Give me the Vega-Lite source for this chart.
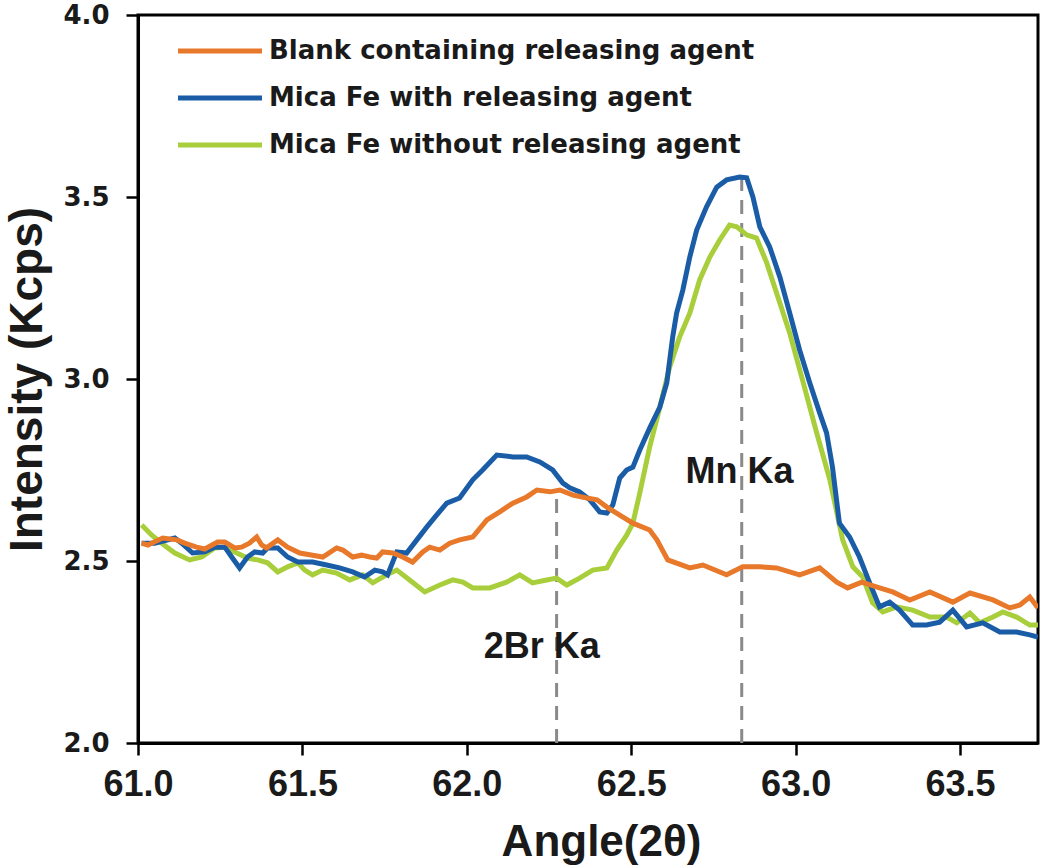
{
  "$schema": "https://vega.github.io/schema/vega-lite/v6.json",
  "autosize": {"type": "none"},
  "padding": {"left": 138, "top": 15, "right": 7, "bottom": 122},
  "width": 900,
  "height": 728,
  "background": "white",
  "config": {
    "view": {"stroke": "black", "strokeWidth": 3},
    "axis": {"grid": false, "domainColor": "black", "domainWidth": 3, "tickColor": "black", "tickWidth": 2.5, "tickSize": 12, "labelColor": "#1a1a1a", "titleColor": "#1a1a1a", "labelFlush": false}
  },
  "datasets": {
    "spectra": [
      {"series": "Mica Fe without  releasing agent", "angle": 61.011, "intensity": 2.599},
      {"series": "Mica Fe without  releasing agent", "angle": 61.042, "intensity": 2.571},
      {"series": "Mica Fe without  releasing agent", "angle": 61.072, "intensity": 2.549},
      {"series": "Mica Fe without  releasing agent", "angle": 61.112, "intensity": 2.522},
      {"series": "Mica Fe without  releasing agent", "angle": 61.157, "intensity": 2.503},
      {"series": "Mica Fe without  releasing agent", "angle": 61.194, "intensity": 2.511},
      {"series": "Mica Fe without  releasing agent", "angle": 61.233, "intensity": 2.536},
      {"series": "Mica Fe without  releasing agent", "angle": 61.264, "intensity": 2.538},
      {"series": "Mica Fe without  releasing agent", "angle": 61.294, "intensity": 2.525},
      {"series": "Mica Fe without  releasing agent", "angle": 61.333, "intensity": 2.508},
      {"series": "Mica Fe without  releasing agent", "angle": 61.364, "intensity": 2.503},
      {"series": "Mica Fe without  releasing agent", "angle": 61.394, "intensity": 2.495},
      {"series": "Mica Fe without  releasing agent", "angle": 61.425, "intensity": 2.470},
      {"series": "Mica Fe without  releasing agent", "angle": 61.455, "intensity": 2.484},
      {"series": "Mica Fe without  releasing agent", "angle": 61.486, "intensity": 2.495},
      {"series": "Mica Fe without  releasing agent", "angle": 61.507, "intensity": 2.475},
      {"series": "Mica Fe without  releasing agent", "angle": 61.531, "intensity": 2.462},
      {"series": "Mica Fe without  releasing agent", "angle": 61.562, "intensity": 2.475},
      {"series": "Mica Fe without  releasing agent", "angle": 61.604, "intensity": 2.467},
      {"series": "Mica Fe without  releasing agent", "angle": 61.644, "intensity": 2.448},
      {"series": "Mica Fe without  releasing agent", "angle": 61.683, "intensity": 2.462},
      {"series": "Mica Fe without  releasing agent", "angle": 61.714, "intensity": 2.440},
      {"series": "Mica Fe without  releasing agent", "angle": 61.756, "intensity": 2.462},
      {"series": "Mica Fe without  releasing agent", "angle": 61.787, "intensity": 2.475},
      {"series": "Mica Fe without  releasing agent", "angle": 61.826, "intensity": 2.448},
      {"series": "Mica Fe without  releasing agent", "angle": 61.872, "intensity": 2.415},
      {"series": "Mica Fe without  releasing agent", "angle": 61.918, "intensity": 2.434},
      {"series": "Mica Fe without  releasing agent", "angle": 61.957, "intensity": 2.448},
      {"series": "Mica Fe without  releasing agent", "angle": 61.988, "intensity": 2.442},
      {"series": "Mica Fe without  releasing agent", "angle": 62.018, "intensity": 2.426},
      {"series": "Mica Fe without  releasing agent", "angle": 62.070, "intensity": 2.426},
      {"series": "Mica Fe without  releasing agent", "angle": 62.121, "intensity": 2.442},
      {"series": "Mica Fe without  releasing agent", "angle": 62.161, "intensity": 2.462},
      {"series": "Mica Fe without  releasing agent", "angle": 62.200, "intensity": 2.440},
      {"series": "Mica Fe without  releasing agent", "angle": 62.243, "intensity": 2.448},
      {"series": "Mica Fe without  releasing agent", "angle": 62.273, "intensity": 2.453},
      {"series": "Mica Fe without  releasing agent", "angle": 62.304, "intensity": 2.434},
      {"series": "Mica Fe without  releasing agent", "angle": 62.343, "intensity": 2.453},
      {"series": "Mica Fe without  releasing agent", "angle": 62.383, "intensity": 2.475},
      {"series": "Mica Fe without  releasing agent", "angle": 62.426, "intensity": 2.481},
      {"series": "Mica Fe without  releasing agent", "angle": 62.456, "intensity": 2.530},
      {"series": "Mica Fe without  releasing agent", "angle": 62.486, "intensity": 2.571},
      {"series": "Mica Fe without  releasing agent", "angle": 62.505, "intensity": 2.604},
      {"series": "Mica Fe without  releasing agent", "angle": 62.526, "intensity": 2.687},
      {"series": "Mica Fe without  releasing agent", "angle": 62.556, "intensity": 2.813},
      {"series": "Mica Fe without  releasing agent", "angle": 62.587, "intensity": 2.923},
      {"series": "Mica Fe without  releasing agent", "angle": 62.617, "intensity": 3.033},
      {"series": "Mica Fe without  releasing agent", "angle": 62.647, "intensity": 3.115},
      {"series": "Mica Fe without  releasing agent", "angle": 62.678, "intensity": 3.181},
      {"series": "Mica Fe without  releasing agent", "angle": 62.708, "intensity": 3.272},
      {"series": "Mica Fe without  releasing agent", "angle": 62.739, "intensity": 3.335},
      {"series": "Mica Fe without  releasing agent", "angle": 62.769, "intensity": 3.382},
      {"series": "Mica Fe without  releasing agent", "angle": 62.799, "intensity": 3.423},
      {"series": "Mica Fe without  releasing agent", "angle": 62.821, "intensity": 3.418},
      {"series": "Mica Fe without  releasing agent", "angle": 62.851, "intensity": 3.396},
      {"series": "Mica Fe without  releasing agent", "angle": 62.881, "intensity": 3.387},
      {"series": "Mica Fe without  releasing agent", "angle": 62.912, "intensity": 3.319},
      {"series": "Mica Fe without  releasing agent", "angle": 62.942, "intensity": 3.236},
      {"series": "Mica Fe without  releasing agent", "angle": 62.982, "intensity": 3.126},
      {"series": "Mica Fe without  releasing agent", "angle": 63.021, "intensity": 2.997},
      {"series": "Mica Fe without  releasing agent", "angle": 63.064, "intensity": 2.852},
      {"series": "Mica Fe without  releasing agent", "angle": 63.104, "intensity": 2.723},
      {"series": "Mica Fe without  releasing agent", "angle": 63.143, "intensity": 2.558},
      {"series": "Mica Fe without  releasing agent", "angle": 63.174, "intensity": 2.484},
      {"series": "Mica Fe without  releasing agent", "angle": 63.204, "intensity": 2.456},
      {"series": "Mica Fe without  releasing agent", "angle": 63.234, "intensity": 2.385},
      {"series": "Mica Fe without  releasing agent", "angle": 63.265, "intensity": 2.360},
      {"series": "Mica Fe without  releasing agent", "angle": 63.307, "intensity": 2.374},
      {"series": "Mica Fe without  releasing agent", "angle": 63.356, "intensity": 2.365},
      {"series": "Mica Fe without  releasing agent", "angle": 63.408, "intensity": 2.346},
      {"series": "Mica Fe without  releasing agent", "angle": 63.459, "intensity": 2.346},
      {"series": "Mica Fe without  releasing agent", "angle": 63.490, "intensity": 2.330},
      {"series": "Mica Fe without  releasing agent", "angle": 63.530, "intensity": 2.357},
      {"series": "Mica Fe without  releasing agent", "angle": 63.560, "intensity": 2.330},
      {"series": "Mica Fe without  releasing agent", "angle": 63.600, "intensity": 2.346},
      {"series": "Mica Fe without  releasing agent", "angle": 63.630, "intensity": 2.360},
      {"series": "Mica Fe without  releasing agent", "angle": 63.672, "intensity": 2.346},
      {"series": "Mica Fe without  releasing agent", "angle": 63.712, "intensity": 2.324},
      {"series": "Mica Fe without  releasing agent", "angle": 63.737, "intensity": 2.324},

      {"series": "Mica Fe with  releasing agent", "angle": 61.011, "intensity": 2.549},
      {"series": "Mica Fe with  releasing agent", "angle": 61.051, "intensity": 2.549},
      {"series": "Mica Fe with  releasing agent", "angle": 61.112, "intensity": 2.563},
      {"series": "Mica Fe with  releasing agent", "angle": 61.133, "intensity": 2.549},
      {"series": "Mica Fe with  releasing agent", "angle": 61.166, "intensity": 2.522},
      {"series": "Mica Fe with  releasing agent", "angle": 61.203, "intensity": 2.525},
      {"series": "Mica Fe with  releasing agent", "angle": 61.233, "intensity": 2.538},
      {"series": "Mica Fe with  releasing agent", "angle": 61.264, "intensity": 2.538},
      {"series": "Mica Fe with  releasing agent", "angle": 61.285, "intensity": 2.511},
      {"series": "Mica Fe with  releasing agent", "angle": 61.309, "intensity": 2.481},
      {"series": "Mica Fe with  releasing agent", "angle": 61.333, "intensity": 2.511},
      {"series": "Mica Fe with  releasing agent", "angle": 61.355, "intensity": 2.525},
      {"series": "Mica Fe with  releasing agent", "angle": 61.379, "intensity": 2.522},
      {"series": "Mica Fe with  releasing agent", "angle": 61.394, "intensity": 2.536},
      {"series": "Mica Fe with  releasing agent", "angle": 61.425, "intensity": 2.536},
      {"series": "Mica Fe with  releasing agent", "angle": 61.455, "intensity": 2.511},
      {"series": "Mica Fe with  releasing agent", "angle": 61.486, "intensity": 2.497},
      {"series": "Mica Fe with  releasing agent", "angle": 61.531, "intensity": 2.497},
      {"series": "Mica Fe with  releasing agent", "angle": 61.574, "intensity": 2.489},
      {"series": "Mica Fe with  releasing agent", "angle": 61.613, "intensity": 2.481},
      {"series": "Mica Fe with  releasing agent", "angle": 61.653, "intensity": 2.470},
      {"series": "Mica Fe with  releasing agent", "angle": 61.689, "intensity": 2.456},
      {"series": "Mica Fe with  releasing agent", "angle": 61.720, "intensity": 2.475},
      {"series": "Mica Fe with  releasing agent", "angle": 61.744, "intensity": 2.470},
      {"series": "Mica Fe with  releasing agent", "angle": 61.759, "intensity": 2.462},
      {"series": "Mica Fe with  releasing agent", "angle": 61.787, "intensity": 2.525},
      {"series": "Mica Fe with  releasing agent", "angle": 61.817, "intensity": 2.522},
      {"series": "Mica Fe with  releasing agent", "angle": 61.848, "intensity": 2.558},
      {"series": "Mica Fe with  releasing agent", "angle": 61.878, "intensity": 2.593},
      {"series": "Mica Fe with  releasing agent", "angle": 61.908, "intensity": 2.626},
      {"series": "Mica Fe with  releasing agent", "angle": 61.939, "intensity": 2.659},
      {"series": "Mica Fe with  releasing agent", "angle": 61.978, "intensity": 2.673},
      {"series": "Mica Fe with  releasing agent", "angle": 62.018, "intensity": 2.723},
      {"series": "Mica Fe with  releasing agent", "angle": 62.048, "intensity": 2.750},
      {"series": "Mica Fe with  releasing agent", "angle": 62.091, "intensity": 2.791},
      {"series": "Mica Fe with  releasing agent", "angle": 62.140, "intensity": 2.786},
      {"series": "Mica Fe with  releasing agent", "angle": 62.182, "intensity": 2.786},
      {"series": "Mica Fe with  releasing agent", "angle": 62.222, "intensity": 2.772},
      {"series": "Mica Fe with  releasing agent", "angle": 62.261, "intensity": 2.750},
      {"series": "Mica Fe with  releasing agent", "angle": 62.292, "intensity": 2.714},
      {"series": "Mica Fe with  releasing agent", "angle": 62.313, "intensity": 2.701},
      {"series": "Mica Fe with  releasing agent", "angle": 62.343, "intensity": 2.690},
      {"series": "Mica Fe with  releasing agent", "angle": 62.374, "intensity": 2.668},
      {"series": "Mica Fe with  releasing agent", "angle": 62.404, "intensity": 2.635},
      {"series": "Mica Fe with  releasing agent", "angle": 62.426, "intensity": 2.632},
      {"series": "Mica Fe with  releasing agent", "angle": 62.444, "intensity": 2.654},
      {"series": "Mica Fe with  releasing agent", "angle": 62.465, "intensity": 2.728},
      {"series": "Mica Fe with  releasing agent", "angle": 62.486, "intensity": 2.750},
      {"series": "Mica Fe with  releasing agent", "angle": 62.505, "intensity": 2.758},
      {"series": "Mica Fe with  releasing agent", "angle": 62.526, "intensity": 2.805},
      {"series": "Mica Fe with  releasing agent", "angle": 62.556, "intensity": 2.865},
      {"series": "Mica Fe with  releasing agent", "angle": 62.587, "intensity": 2.923},
      {"series": "Mica Fe with  releasing agent", "angle": 62.608, "intensity": 2.989},
      {"series": "Mica Fe with  releasing agent", "angle": 62.626, "intensity": 3.115},
      {"series": "Mica Fe with  releasing agent", "angle": 62.638, "intensity": 3.181},
      {"series": "Mica Fe with  releasing agent", "angle": 62.657, "intensity": 3.245},
      {"series": "Mica Fe with  releasing agent", "angle": 62.678, "intensity": 3.335},
      {"series": "Mica Fe with  releasing agent", "angle": 62.699, "intensity": 3.409},
      {"series": "Mica Fe with  releasing agent", "angle": 62.729, "intensity": 3.473},
      {"series": "Mica Fe with  releasing agent", "angle": 62.760, "intensity": 3.527},
      {"series": "Mica Fe with  releasing agent", "angle": 62.790, "intensity": 3.547},
      {"series": "Mica Fe with  releasing agent", "angle": 62.830, "intensity": 3.555},
      {"series": "Mica Fe with  releasing agent", "angle": 62.851, "intensity": 3.553},
      {"series": "Mica Fe with  releasing agent", "angle": 62.870, "intensity": 3.500},
      {"series": "Mica Fe with  releasing agent", "angle": 62.891, "intensity": 3.418},
      {"series": "Mica Fe with  releasing agent", "angle": 62.921, "intensity": 3.363},
      {"series": "Mica Fe with  releasing agent", "angle": 62.952, "intensity": 3.280},
      {"series": "Mica Fe with  releasing agent", "angle": 62.982, "intensity": 3.181},
      {"series": "Mica Fe with  releasing agent", "angle": 63.012, "intensity": 3.080},
      {"series": "Mica Fe with  releasing agent", "angle": 63.043, "intensity": 2.989},
      {"series": "Mica Fe with  releasing agent", "angle": 63.073, "intensity": 2.907},
      {"series": "Mica Fe with  releasing agent", "angle": 63.094, "intensity": 2.852},
      {"series": "Mica Fe with  releasing agent", "angle": 63.112, "intensity": 2.758},
      {"series": "Mica Fe with  releasing agent", "angle": 63.133, "intensity": 2.604},
      {"series": "Mica Fe with  releasing agent", "angle": 63.164, "intensity": 2.566},
      {"series": "Mica Fe with  releasing agent", "angle": 63.194, "intensity": 2.511},
      {"series": "Mica Fe with  releasing agent", "angle": 63.225, "intensity": 2.440},
      {"series": "Mica Fe with  releasing agent", "angle": 63.255, "intensity": 2.374},
      {"series": "Mica Fe with  releasing agent", "angle": 63.286, "intensity": 2.387},
      {"series": "Mica Fe with  releasing agent", "angle": 63.316, "intensity": 2.365},
      {"series": "Mica Fe with  releasing agent", "angle": 63.356, "intensity": 2.324},
      {"series": "Mica Fe with  releasing agent", "angle": 63.398, "intensity": 2.324},
      {"series": "Mica Fe with  releasing agent", "angle": 63.438, "intensity": 2.332},
      {"series": "Mica Fe with  releasing agent", "angle": 63.478, "intensity": 2.365},
      {"series": "Mica Fe with  releasing agent", "angle": 63.520, "intensity": 2.319},
      {"series": "Mica Fe with  releasing agent", "angle": 63.569, "intensity": 2.330},
      {"series": "Mica Fe with  releasing agent", "angle": 63.621, "intensity": 2.305},
      {"series": "Mica Fe with  releasing agent", "angle": 63.672, "intensity": 2.305},
      {"series": "Mica Fe with  releasing agent", "angle": 63.712, "intensity": 2.297},
      {"series": "Mica Fe with  releasing agent", "angle": 63.737, "intensity": 2.291},

      {"series": "Blank containing releasing agent", "angle": 61.011, "intensity": 2.549},
      {"series": "Blank containing releasing agent", "angle": 61.030, "intensity": 2.544},
      {"series": "Blank containing releasing agent", "angle": 61.075, "intensity": 2.563},
      {"series": "Blank containing releasing agent", "angle": 61.118, "intensity": 2.558},
      {"series": "Blank containing releasing agent", "angle": 61.142, "intensity": 2.549},
      {"series": "Blank containing releasing agent", "angle": 61.178, "intensity": 2.538},
      {"series": "Blank containing releasing agent", "angle": 61.203, "intensity": 2.533},
      {"series": "Blank containing releasing agent", "angle": 61.242, "intensity": 2.552},
      {"series": "Blank containing releasing agent", "angle": 61.264, "intensity": 2.552},
      {"series": "Blank containing releasing agent", "angle": 61.294, "intensity": 2.536},
      {"series": "Blank containing releasing agent", "angle": 61.315, "intensity": 2.538},
      {"series": "Blank containing releasing agent", "angle": 61.339, "intensity": 2.549},
      {"series": "Blank containing releasing agent", "angle": 61.361, "intensity": 2.566},
      {"series": "Blank containing releasing agent", "angle": 61.376, "intensity": 2.544},
      {"series": "Blank containing releasing agent", "angle": 61.391, "intensity": 2.536},
      {"series": "Blank containing releasing agent", "angle": 61.425, "intensity": 2.558},
      {"series": "Blank containing releasing agent", "angle": 61.455, "intensity": 2.538},
      {"series": "Blank containing releasing agent", "angle": 61.492, "intensity": 2.522},
      {"series": "Blank containing releasing agent", "angle": 61.531, "intensity": 2.516},
      {"series": "Blank containing releasing agent", "angle": 61.562, "intensity": 2.511},
      {"series": "Blank containing releasing agent", "angle": 61.604, "intensity": 2.536},
      {"series": "Blank containing releasing agent", "angle": 61.623, "intensity": 2.530},
      {"series": "Blank containing releasing agent", "angle": 61.653, "intensity": 2.511},
      {"series": "Blank containing releasing agent", "angle": 61.680, "intensity": 2.516},
      {"series": "Blank containing releasing agent", "angle": 61.705, "intensity": 2.511},
      {"series": "Blank containing releasing agent", "angle": 61.726, "intensity": 2.508},
      {"series": "Blank containing releasing agent", "angle": 61.744, "intensity": 2.525},
      {"series": "Blank containing releasing agent", "angle": 61.775, "intensity": 2.522},
      {"series": "Blank containing releasing agent", "angle": 61.805, "intensity": 2.511},
      {"series": "Blank containing releasing agent", "angle": 61.835, "intensity": 2.497},
      {"series": "Blank containing releasing agent", "angle": 61.866, "intensity": 2.525},
      {"series": "Blank containing releasing agent", "angle": 61.887, "intensity": 2.538},
      {"series": "Blank containing releasing agent", "angle": 61.918, "intensity": 2.530},
      {"series": "Blank containing releasing agent", "angle": 61.948, "intensity": 2.549},
      {"series": "Blank containing releasing agent", "angle": 61.978, "intensity": 2.558},
      {"series": "Blank containing releasing agent", "angle": 62.018, "intensity": 2.566},
      {"series": "Blank containing releasing agent", "angle": 62.061, "intensity": 2.613},
      {"series": "Blank containing releasing agent", "angle": 62.100, "intensity": 2.635},
      {"series": "Blank containing releasing agent", "angle": 62.140, "intensity": 2.659},
      {"series": "Blank containing releasing agent", "angle": 62.182, "intensity": 2.676},
      {"series": "Blank containing releasing agent", "angle": 62.213, "intensity": 2.695},
      {"series": "Blank containing releasing agent", "angle": 62.253, "intensity": 2.690},
      {"series": "Blank containing releasing agent", "angle": 62.283, "intensity": 2.695},
      {"series": "Blank containing releasing agent", "angle": 62.323, "intensity": 2.681},
      {"series": "Blank containing releasing agent", "angle": 62.365, "intensity": 2.673},
      {"series": "Blank containing releasing agent", "angle": 62.396, "intensity": 2.668},
      {"series": "Blank containing releasing agent", "angle": 62.426, "intensity": 2.648},
      {"series": "Blank containing releasing agent", "angle": 62.465, "intensity": 2.626},
      {"series": "Blank containing releasing agent", "angle": 62.505, "intensity": 2.604},
      {"series": "Blank containing releasing agent", "angle": 62.556, "intensity": 2.585},
      {"series": "Blank containing releasing agent", "angle": 62.578, "intensity": 2.558},
      {"series": "Blank containing releasing agent", "angle": 62.611, "intensity": 2.503},
      {"series": "Blank containing releasing agent", "angle": 62.678, "intensity": 2.481},
      {"series": "Blank containing releasing agent", "angle": 62.718, "intensity": 2.489},
      {"series": "Blank containing releasing agent", "angle": 62.790, "intensity": 2.462},
      {"series": "Blank containing releasing agent", "angle": 62.839, "intensity": 2.484},
      {"series": "Blank containing releasing agent", "angle": 62.891, "intensity": 2.484},
      {"series": "Blank containing releasing agent", "angle": 62.942, "intensity": 2.481},
      {"series": "Blank containing releasing agent", "angle": 63.012, "intensity": 2.462},
      {"series": "Blank containing releasing agent", "angle": 63.073, "intensity": 2.481},
      {"series": "Blank containing releasing agent", "angle": 63.125, "intensity": 2.442},
      {"series": "Blank containing releasing agent", "angle": 63.158, "intensity": 2.426},
      {"series": "Blank containing releasing agent", "angle": 63.201, "intensity": 2.442},
      {"series": "Blank containing releasing agent", "angle": 63.255, "intensity": 2.426},
      {"series": "Blank containing releasing agent", "angle": 63.295, "intensity": 2.415},
      {"series": "Blank containing releasing agent", "angle": 63.347, "intensity": 2.393},
      {"series": "Blank containing releasing agent", "angle": 63.408, "intensity": 2.415},
      {"series": "Blank containing releasing agent", "angle": 63.478, "intensity": 2.387},
      {"series": "Blank containing releasing agent", "angle": 63.530, "intensity": 2.412},
      {"series": "Blank containing releasing agent", "angle": 63.600, "intensity": 2.393},
      {"series": "Blank containing releasing agent", "angle": 63.651, "intensity": 2.371},
      {"series": "Blank containing releasing agent", "angle": 63.682, "intensity": 2.379},
      {"series": "Blank containing releasing agent", "angle": 63.712, "intensity": 2.401},
      {"series": "Blank containing releasing agent", "angle": 63.737, "intensity": 2.371}
    ],
    "markers": [
      {"angle": 62.273, "low": 2.0, "high": 2.69},
      {"angle": 62.836, "low": 2.0, "high": 3.55}
    ],
    "labels": [
      {"angle": 62.228, "intensity": 2.234, "text": "2Br Ka"},
      {"angle": 62.829, "intensity": 2.714, "text": "Mn Ka"}
    ]
  },
  "layer": [
    {
      "data": {"name": "markers"},
      "mark": {"type": "rule", "color": "#8a8a8a", "strokeWidth": 3, "strokeDash": [14, 9]},
      "encoding": {
        "x": {"field": "angle", "type": "quantitative", "scale": {"domain": [61.0, 63.737], "nice": false, "zero": false}},
        "y": {"field": "low", "type": "quantitative", "scale": {"domain": [2.0, 4.0], "nice": false, "zero": false}},
        "y2": {"field": "high"}
      }
    },
    {
      "data": {"name": "spectra"},
      "mark": {"type": "line", "strokeWidth": 5, "clip": true},
      "encoding": {
        "x": {
          "field": "angle", "type": "quantitative",
          "scale": {"domain": [61.0, 63.737], "nice": false, "zero": false},
          "axis": {
            "values": [61.0, 61.5, 62.0, 62.5, 63.0, 63.5], "format": ".1f",
            "labelFont": "Liberation Sans", "labelFontWeight": "bold", "labelFontSize": 36,
            "labelPadding": 12, "labelFlush": false,
            "title": "Angle(2θ)", "titleFont": "Liberation Sans", "titleFontWeight": "bold", "titleFontSize": 44,
            "titleBaseline": "alphabetic", "titleY": 112, "titleX": 463, "titleAlign": "center"
          }
        },
        "y": {
          "field": "intensity", "type": "quantitative",
          "scale": {"domain": [2.0, 4.0], "nice": false, "zero": false},
          "axis": {
            "values": [2.0, 2.5, 3.0, 3.5, 4.0], "format": ".1f",
            "labelFont": "DejaVu Sans", "labelFontWeight": "bold", "labelFontSize": 26,
            "labelPadding": 17,
            "title": "Intensity (Kcps)", "titleFont": "Liberation Sans", "titleFontWeight": "bold", "titleFontSize": 46,
            "titleAngle": -90, "titleBaseline": "alphabetic", "titleX": -97, "titleY": 364, "titleAlign": "center"
          }
        },
        "color": {
          "field": "series", "type": "nominal",
          "scale": {
            "domain": ["Blank containing releasing agent", "Mica Fe with  releasing agent", "Mica Fe without  releasing agent"],
            "range": ["#E8782A", "#1A5DA6", "#A8CE3C"]
          },
          "legend": {
            "orient": "none", "legendX": 69, "legendY": 23, "title": null, "padding": 0,
            "symbolType": "M-4,0L4,0", "symbolSize": 441, "symbolStrokeWidth": 5,
            "labelFont": "DejaVu Sans", "labelFontWeight": "bold", "labelFontSize": 26, "labelColor": "#1a1a1a",
            "labelOffset": 36, "rowPadding": 21, "labelLimit": 700
          }
        },
        "order": {"field": "angle", "type": "quantitative"}
      }
    },
    {
      "data": {"name": "labels"},
      "mark": {"type": "text", "font": "Liberation Sans", "fontWeight": "bold", "fontSize": 36, "color": "#1a1a1a", "baseline": "alphabetic", "align": "center"},
      "encoding": {
        "x": {"field": "angle", "type": "quantitative"},
        "y": {"field": "intensity", "type": "quantitative"},
        "text": {"field": "text"}
      }
    }
  ]
}
